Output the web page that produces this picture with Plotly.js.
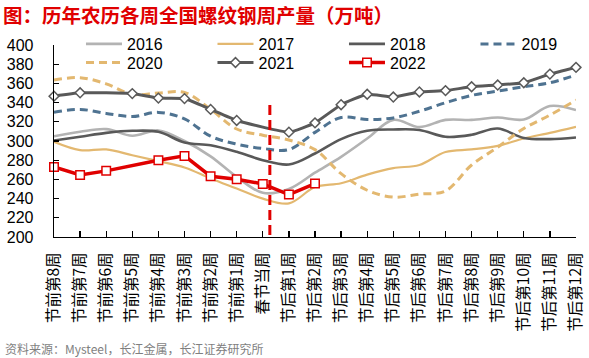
<!DOCTYPE html>
<html><head><meta charset="utf-8">
<script src="https://cdn.plot.ly/plotly-3.0.1.min.js"></script>
<style>html,body{margin:0;padding:0;background:#fff}#chart{width:589px;height:358px}</style>
</head><body><div id="chart"></div>
<script>
// Categories (weeks relative to Chinese New Year)
const weeks = ['节前第8周','节前第7周','节前第6周','节前第5周','节前第4周','节前第3周','节前第2周','节前第1周',
  '春节当周','节后第1周','节后第2周','节后第3周','节后第4周','节后第5周','节后第6周','节后第7周',
  '节后第8周','节后第9周','节后第10周','节后第11周','节后第12周'];

// Weekly rebar output (10k tonnes)
const y2016 = [305, 309.6, 312.4, 305.5, 311, 300, 284, 262.6, 246, 250, 267, 283.5, 302.6, 322, 314.5, 322, 322, 324.5, 322.4, 336.4, 332.2];
const y2017 = [299.2, 290.5, 291.2, 285.2, 279, 272.4, 261, 250.5, 240, 235, 252, 256, 265, 271.8, 275, 288.5, 291.2, 295, 302.6, 308.5, 314.8];
const y2018 = [300.5, 304.4, 308.5, 310.6, 309.6, 298.5, 295.5, 288.7, 280, 275.5, 287, 302, 310.6, 312, 311.5, 304.4, 306.5, 313, 303.2, 302, 303.7];
const y2019 = [329.8, 332.9, 328.7, 325.5, 329.8, 323, 305, 296.7, 292.2, 291.1, 309, 324.5, 322.4, 324, 331, 339.8, 347.5, 352, 356.5, 360.7, 368.7];
const y2020 = [363.5, 366, 359.5, 348.5, 350, 350.5, 333, 312.5, 306, 301, 291, 266, 248.7, 241.5, 244.7, 248, 275, 293.5, 313, 327, 342.6];
const y2021 = [346.7, 350.2, null, 349.4, 344.7, 344.2, 332.9, 321.4, null, 309.2, 318.9, 337.8, 348.7, 345.8, 351.1, 352.5, 356.5, 358.3, 360.7, 369.7, 376.7];
const y2022 = [273, 264.7, 268.9, null, 280, 284.5, 263.3, 260.2, 255.3, 244.2, 255.7];

const festivalPos = 8.27;       // red dashed marker next to 春节当周
const festivalSpan = [202, 340];

const yTicks = [200, 220, 240, 260, 280, 300, 320, 340, 360, 380, 400];

const traces = [
  {name: '2016', y: y2016, line: {color: '#b3b3b3', width: 2.6, shape: 'spline', smoothing: 1}, legend: 'legend'},
  {name: '2017', y: y2017, line: {color: '#e3b870', width: 2.2, shape: 'spline', smoothing: 1}, legend: 'legend'},
  {name: '2018', y: y2018, line: {color: '#595959', width: 2.6, shape: 'spline', smoothing: 1}, legend: 'legend'},
  {name: '2019', y: y2019, line: {color: '#4f7391', width: 3, dash: '8px,5px', shape: 'spline', smoothing: 1}, legend: 'legend'},
  {name: '2020', y: y2020, line: {color: '#e3b870', width: 3, dash: '8px,5px', shape: 'spline', smoothing: 1}, legend: 'legend2'},
  {name: '2021', y: y2021, mode: 'lines+markers', connectgaps: true,
    line: {color: '#595959', width: 3, shape: 'spline', smoothing: 0.4},
    marker: {symbol: 'diamond', size: 7.5, color: '#ffffff', line: {color: '#595959', width: 1.5}}, legend: 'legend2'},
  {name: '2022', y: y2022, x: weeks.slice(0, y2022.length), mode: 'lines+markers', connectgaps: true,
    line: {color: '#e00000', width: 3.5},
    marker: {symbol: 'square', size: 8.5, color: '#ffffff', line: {color: '#e00000', width: 1.5}}, legend: 'legend2'}
].map(t => Object.assign({type: 'scatter', mode: 'lines', x: weeks, cliponaxis: false, hoverinfo: 'skip'}, t));

const legendCommon = {
  orientation: 'h', xanchor: 'left', yanchor: 'top', x: 0.0517,
  itemwidth: 36, entrywidth: 80.5, bgcolor: 'rgba(0,0,0,0)', borderwidth: 0,
  font: {family: 'Liberation Sans, Arial, sans-serif', size: 16, color: '#000'},
  traceorder: 'normal'
};

const layout = {
  width: 589, height: 358,
  margin: {l: 54, r: 13, t: 45, b: 121, autoexpand: false},
  paper_bgcolor: '#ffffff', plot_bgcolor: '#ffffff',
  title: {text: '图：历年农历各周全国螺纹钢周产量（万吨）', xref: 'container', yref: 'container',
    x: 3/589, xanchor: 'left', y: 1 - 16/358, yanchor: 'middle',
    font: {family: 'Noto Sans CJK SC, sans-serif', size: 19.5, weight: 700, color: '#e00000'}},
  showlegend: true,
  legend: Object.assign({}, legendCommon, {y: 1.0937}),
  legend2: Object.assign({}, legendCommon, {y: 0.9968}),
  xaxis: {type: 'category', range: [0, 20], showgrid: false, zeroline: false,
    showline: true, linecolor: '#000', linewidth: 1.3, ticks: 'inside', ticklen: 6, tickcolor: '#000', tickwidth: 1.3,
    tickangle: -90, ticklabelstandoff: 8,
    tickfont: {family: 'Noto Sans CJK SC, sans-serif', size: 15.5, color: '#000'}},
  yaxis: {range: [200, 400], tickvals: yTicks, showgrid: false, zeroline: false,
    showline: true, linecolor: '#000', linewidth: 1.3, ticks: 'inside', ticklen: 5, tickcolor: '#000', tickwidth: 1.3,
    ticklabelstandoff: 16,
    tickfont: {family: 'Liberation Sans, Arial, sans-serif', size: 16, color: '#000'}},
  shapes: [{type: 'line', xref: 'x', yref: 'y', x0: festivalPos, x1: festivalPos, y0: festivalSpan[0], y1: festivalSpan[1],
    line: {color: '#e00000', width: 3, dash: '10px,5px'}}],
  annotations: [{text: '资料来源：Mysteel，长江金属，长江证券研究所', xref: 'paper', yref: 'paper',
    x: (3 - 54) / 522, xanchor: 'left', y: (237 - 348) / 192, yanchor: 'middle', showarrow: false,
    font: {family: 'Noto Sans CJK SC, sans-serif', size: 12, color: '#7f7f7f'}}]
};

Plotly.newPlot('chart', traces, layout, {staticPlot: true, displayModeBar: false});
</script>
</body></html>
